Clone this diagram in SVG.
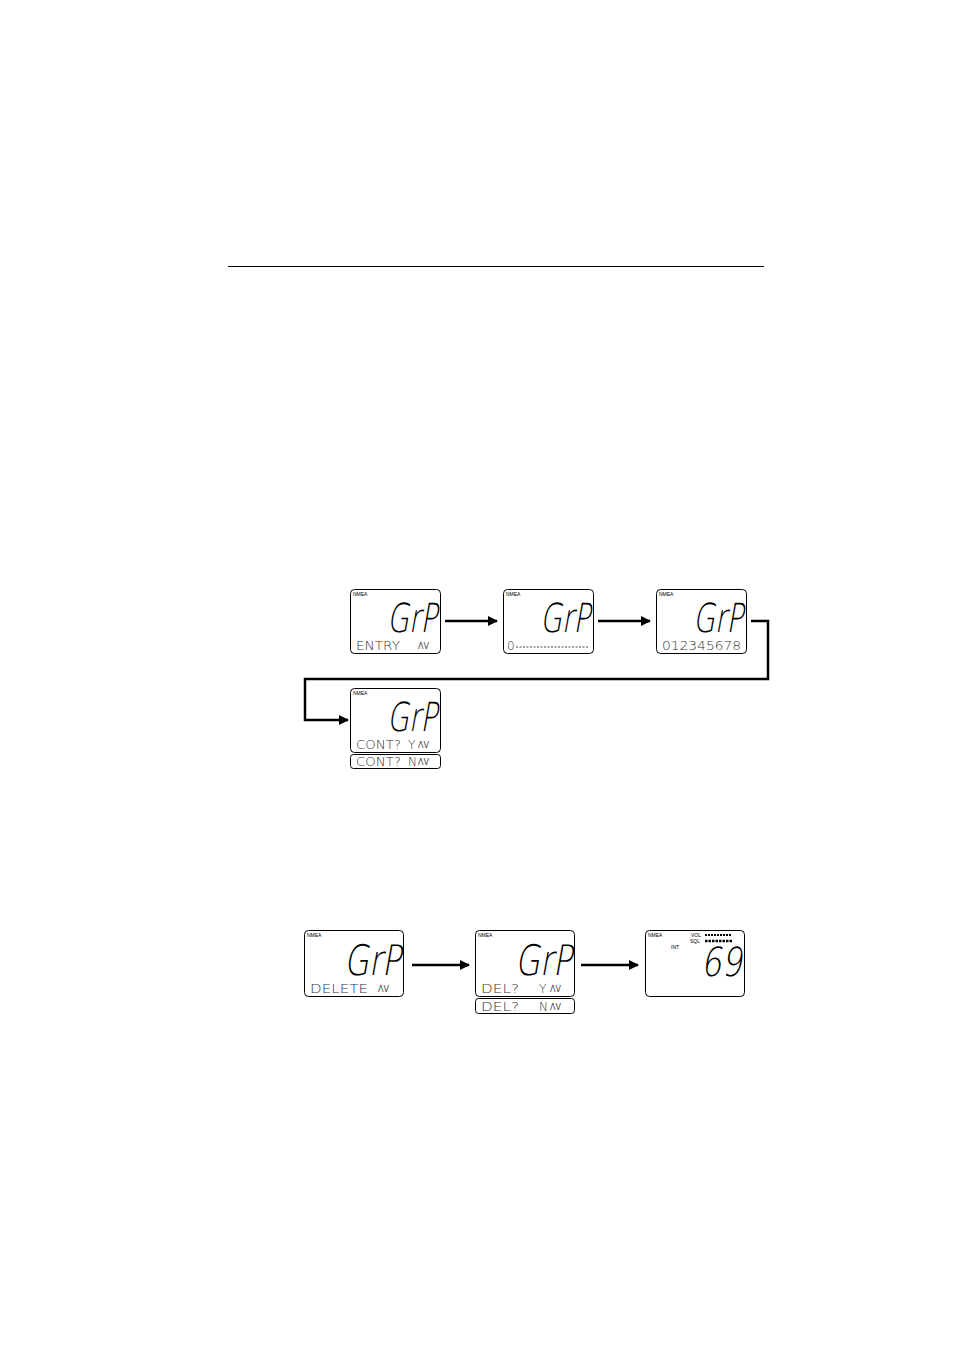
<svg xmlns="http://www.w3.org/2000/svg" width="954" height="1351" viewBox="0 0 954 1351">
<defs>
<marker id="ah" markerWidth="10" markerHeight="10" refX="9" refY="5" orient="auto" markerUnits="userSpaceOnUse" viewBox="0 0 10 10">
<path d="M0,0 L10,5 L0,10 Z" fill="#000"/>
</marker>
<style>
.box{fill:#fff;stroke:#000;stroke-width:1}
.nmea{font-family:"Liberation Sans",Arial,sans-serif;font-size:5px;fill:#000}
.big{font-family:"DejaVu Sans",sans-serif;font-weight:200;fill:#000}
.lcd{font-family:"DejaVu Sans",sans-serif;font-weight:200;font-size:12px;fill:#333}
.sym{font-family:"DejaVu Sans",sans-serif;font-size:8px;fill:#444}
.conn{fill:none;stroke:#000;stroke-width:2.5}
.dash{stroke:#444;stroke-width:1;stroke-dasharray:2,1.5}
</style>
</defs>
<rect width="954" height="1351" fill="#fff"/>
<line x1="228" y1="266.5" x2="764" y2="266.5" stroke="#000" stroke-width="1"/>

<g id="n1">
<rect class="box" x="350.5" y="589.5" width="90" height="64" rx="4"/>
<text class="nmea" x="353" y="596">NMEA</text>
<text class="big" transform="translate(387,632) skewX(-10)" font-size="40" textLength="50" lengthAdjust="spacingAndGlyphs">GrP</text>
<text class="lcd" x="356" y="650" textLength="44" lengthAdjust="spacingAndGlyphs">ENTRY</text>
<text class="sym" x="418" y="649">ΛV</text>
</g>

<g id="n2">
<rect class="box" x="503.5" y="589.5" width="90" height="64" rx="4"/>
<text class="nmea" x="506" y="596">NMEA</text>
<text class="big" transform="translate(540,632) skewX(-10)" font-size="40" textLength="50" lengthAdjust="spacingAndGlyphs">GrP</text>
<text class="lcd" x="507" y="650">0</text>
<line class="dash" x1="516" y1="647" x2="588" y2="647"/>
</g>

<g id="n3">
<rect class="box" x="656.5" y="589.5" width="90" height="64" rx="4"/>
<text class="nmea" x="659" y="596">NMEA</text>
<text class="big" transform="translate(693,632) skewX(-10)" font-size="40" textLength="50" lengthAdjust="spacingAndGlyphs">GrP</text>
<text class="lcd" x="662" y="650" textLength="79" lengthAdjust="spacingAndGlyphs">012345678</text>
</g>

<g id="n4">
<rect class="box" x="350.5" y="688.5" width="90" height="64" rx="4"/>
<text class="nmea" x="353" y="695">NMEA</text>
<text class="big" transform="translate(387,731) skewX(-10)" font-size="40" textLength="50" lengthAdjust="spacingAndGlyphs">GrP</text>
<text class="lcd" x="356" y="749" textLength="45" lengthAdjust="spacingAndGlyphs">CONT?</text>
<text class="lcd" x="408" y="749">Y</text>
<text class="sym" x="418" y="748">ΛV</text>
<rect class="box" x="350.5" y="754.5" width="90" height="14" rx="3"/>
<text class="lcd" x="356" y="766" textLength="45" lengthAdjust="spacingAndGlyphs">CONT?</text>
<text class="lcd" x="408" y="766">N</text>
<text class="sym" x="418" y="765">ΛV</text>
</g>

<g id="n5">
<rect class="box" x="304.5" y="930.5" width="99" height="66" rx="4"/>
<text class="nmea" x="307" y="937">NMEA</text>
<text class="big" transform="translate(344,975) skewX(-10)" font-size="42" textLength="57" lengthAdjust="spacingAndGlyphs">GrP</text>
<text class="lcd" x="310" y="993" textLength="58" lengthAdjust="spacingAndGlyphs">DELETE</text>
<text class="sym" x="378" y="992">ΛV</text>
</g>

<g id="n6">
<rect class="box" x="475.5" y="930.5" width="99" height="66" rx="4"/>
<text class="nmea" x="478" y="937">NMEA</text>
<text class="big" transform="translate(515,975) skewX(-10)" font-size="42" textLength="57" lengthAdjust="spacingAndGlyphs">GrP</text>
<text class="lcd" x="481" y="993" textLength="38" lengthAdjust="spacingAndGlyphs">DEL?</text>
<text class="lcd" x="539" y="993">Y</text>
<text class="sym" x="550" y="992">ΛV</text>
<rect class="box" x="475.5" y="998.5" width="99" height="15" rx="3"/>
<text class="lcd" x="481" y="1011" textLength="38" lengthAdjust="spacingAndGlyphs">DEL?</text>
<text class="lcd" x="539" y="1011">N</text>
<text class="sym" x="550" y="1010">ΛV</text>
</g>

<g id="n7">
<rect class="box" x="645.5" y="930.5" width="99" height="66" rx="4"/>
<text class="nmea" x="648" y="937">NMEA</text>
<text class="nmea" x="691" y="937">VOL</text>
<line x1="705" y1="935" x2="731" y2="935" stroke="#000" stroke-width="2" stroke-dasharray="2,1"/>
<text class="nmea" x="690" y="943">SQL</text>
<line x1="705" y1="941" x2="733" y2="941" stroke="#000" stroke-width="2.5" stroke-dasharray="2.5,1"/>
<text class="nmea" x="671" y="949">INT</text>
<text class="big" transform="translate(701,976) skewX(-10)" font-size="40" textLength="41" lengthAdjust="spacingAndGlyphs">69</text>
</g>

<g id="connectors">
<line class="conn" x1="445" y1="621" x2="497" y2="621" marker-end="url(#ah)"/>
<line class="conn" x1="598" y1="621" x2="650" y2="621" marker-end="url(#ah)"/>
<polyline class="conn" points="751,621 768,621 768,679 305,679 305,720 348,720" marker-end="url(#ah)"/>
<line class="conn" x1="412" y1="965" x2="469" y2="965" marker-end="url(#ah)"/>
<line class="conn" x1="581" y1="965" x2="638" y2="965" marker-end="url(#ah)"/>
</g>
</svg>
